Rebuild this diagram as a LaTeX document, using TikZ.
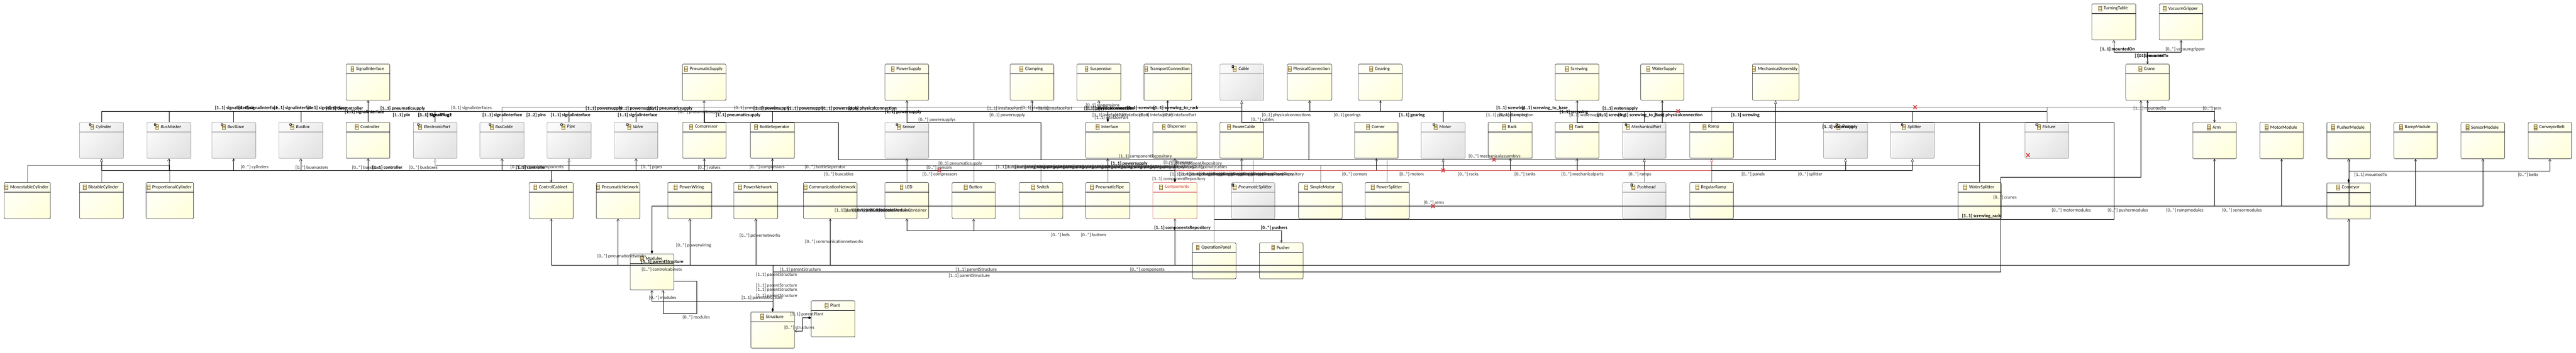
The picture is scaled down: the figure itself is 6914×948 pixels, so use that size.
\documentclass[tikz,border=0pt]{standalone}
\usepackage{fontspec}
\setmainfont{Carlito}
\usetikzlibrary{arrows.meta,shadows}

\definecolor{creamlight}{RGB}{255,255,248}
\definecolor{creamdark}{RGB}{255,255,222}
\definecolor{greylight}{RGB}{250,250,250}
\definecolor{greydark}{RGB}{228,228,228}
\definecolor{iconbrown}{RGB}{128,104,48}
\definecolor{iconfill}{RGB}{250,240,190}
\definecolor{selred}{RGB}{206,62,62}
\definecolor{markred}{RGB}{220,70,80}
\definecolor{gengrey}{RGB}{128,128,128}

\tikzset{
	classbox/.style={rounded corners=3pt,anchor=north west,inner sep=0pt,line width=0.7pt,minimum height=97pt,
		drop shadow={shadow xshift=1.2pt,shadow yshift=-1.2pt,fill=black,opacity=0.15}},
	box y/.style={draw=black,left color=creamlight,right color=creamdark,shading angle=45},
	box g/.style={draw=gengrey,left color=greylight,right color=greydark,shading angle=45},
	box r/.style={draw=selred,left color=creamlight,right color=creamdark,shading angle=45},
	head y/.style={draw=black,line width=0.7pt},
	head g/.style={draw=gengrey,line width=0.7pt},
	head r/.style={draw=selred,line width=0.7pt},
	title y/.style={inner sep=0pt},
	title g/.style={inner sep=0pt,font=\fontsize{12.5}{15}\selectfont\itshape},
	title r/.style={inner sep=0pt,text=selred},
	lbl/.style={inner sep=0pt,anchor=west,text=black!85},
	lblb/.style={inner sep=0pt,anchor=west,font=\fontsize{12.5}{15}\selectfont\bfseries},
	link/.style={draw=black,line width=0.7pt},
	thinlink/.style={draw=black,line width=0.45pt},
	gen/.style={draw=gengrey,line width=0.7pt},
	hollow/.style={-{Triangle[open,length=9pt,width=7pt,fill=white]}},
	pics/icon y/.style={code={
		\draw[iconbrown,fill=iconfill,line width=0.8pt] (-4,-6.5) rectangle (4,6.5);
		\draw[iconbrown,line width=0.6pt] (-4,-2.2) -- (4,-2.2);
		\draw[iconbrown,line width=0.6pt] (-4,2.2) -- (4,2.2);
	}},
	pics/icon r/.style={code={
		\draw[iconbrown,fill=iconfill,line width=0.8pt] (-4,-6.5) rectangle (4,6.5);
		\draw[iconbrown,line width=0.6pt] (-4,-2.2) -- (4,-2.2);
		\draw[iconbrown,line width=0.6pt] (-4,2.2) -- (4,2.2);
	}},
	pics/icon g/.style={code={
		\draw[iconbrown,fill=iconfill,line width=0.8pt] (-4,-6.5) rectangle (4,6.5);
		\draw[iconbrown,line width=0.6pt] (-4,-2.2) -- (4,-2.2);
		\draw[iconbrown,line width=0.6pt] (-4,2.2) -- (4,2.2);
		\draw[black,fill=white,line width=0.6pt] (-7.5,-9.5) rectangle (-3,-4);
	}},
	pics/redx/.style={code={
		\draw[markred,line width=2.6pt] (-4.5,-5) -- (4.5,5);
		\draw[markred,line width=2.6pt] (-4.5,5) -- (4.5,-5);
	}},
}

\begin{document}
\begin{tikzpicture}[x=1pt,y=-1pt,font=\fontsize{12.5}{15}\selectfont,>={Straight Barb[length=6pt,width=7pt]}]
	\useasboundingbox[fill=white] (0,0) rectangle (6914,948);

	% classes
	\foreach \n/\x/\y/\w/\k in {
		TurningTable/5614/10/118/y, VacuumGripper/5795/10/117/y,
		SignalInterface/929/172/117/y, PneumaticSupply/1831/172/117/y, PowerSupply/2375/172/117/y,
		Clamping/2711/172/117/y, Suspension/2890/172/118/y, TransportConnection/3070/172/128/y,
		Cable/3274/172/117/g, PhysicalConnection/3455/172/119/y, Gearing/3646/172/117/y,
		Screwing/4174/172/117/y, WaterSupply/4403/172/116/y, MechanicalAssembly/4703/172/125/y,
		Crane/5705/172/117/y,
		Cylinder/213/328/118/g, BusMaster/394/328/118/g, BusSlave/568/328/118/g, BusBox/748/328/118/g,
		Controller/929/328/117/y, ElectronicPart/1109/328/117/g, BusCable/1288/328/118/g, Pipe/1468/328/118/g,
		Valve/1648/328/117/g, Compressor/1832/328/116/y, BottleSeperator/2014/328/118/y, Sensor/2375/328/117/g,
		Interface/2914/328/118/y, Dispenser/3094/328/118/y, PowerCable/3274/328/117/y, Corner/3635/328/117/y,
		Motor/3814/328/118/g, Rack/3994/328/118/y, Tank/4174/328/117/y, MechanicalPart/4355/328/116/g,
		Ramp/4535/328/117/y, Pump/4894/328/118/g, Splitter/5074/328/117/g, Fixture/5435/328/117/g,
		Arm/5885/329/117/y, MotorModule/6065/329/117/y, PusherModule/6245/329/117/y, RampModule/6425/329/116/y,
		SensorModule/6605/329/117/y, ConveyorBelt/6785/329/117/y,
		MonostableCylinder/11/490/124/y, BistableCylinder/213/490/118/y, ProportionalCylinder/392/490/127/y,
		ControlCabinet/1420/490/118/y, PneumaticNetwork/1600/490/117/y, PowerWiring/1792/490/118/y,
		PowerNetwork/1969/490/118/y, CommunicationNetwork/2156/490/144/y, LED/2375/490/117/y,
		Button/2555/490/116/y, Switch/2735/490/117/y, PneumaticPipe/2914/490/118/y, Components/3094/490/118/r,
		PneumaticSplitter/3305/490/116/g, SimpleMotor/3485/490/117/y, PowerSplitter/3664/490/118/y,
		Pushhead/4355/490/116/g, RegularRamp/4535/490/117/y, WaterSplitter/5255/490/116/y, Conveyor/6245/491/117/y,
		OperationPanel/3200/652/117/y, Pusher/3380/652/117/y,
		Modules/1691/682/117/y, Plant/2177/808/117/y, Structure/2015/838/117/y} {
		\node[classbox,box \k,minimum width=\w pt] (\n) at (\x,\y) {};
		\draw[head \k] ([yshift=-26pt]\n.north west) -- ([yshift=-26pt]\n.north east);
		\node[title \k] (\n-t) at ([shift={(5.5,13)}]\n.north) {\n};
		\pic at ([xshift=-10pt]\n-t.west) {icon \k};
	}

	% lanes
	\coordinate (bustop) at (0,140);
	\coordinate (busgrey) at (0,288);
	\coordinate (bussig) at (0,299);
	\coordinate (buspow) at (0,330);
	\coordinate (busmid) at (0,429);
	\coordinate (busgen) at (0,444);
	\coordinate (buscon) at (0,458);
	\coordinate (busbelt) at (0,459);
	\coordinate (busmod) at (0,554);
	\coordinate (buspanel) at (0,590);
	\coordinate (busled) at (0,620);
	\coordinate (busstr) at (0,713);
	\coordinate (bussub) at (0,730);
	\coordinate (busback) at (0,809);

	\coordinate (midstart) at (2249.5,429);
	\coordinate (cablekink) at (3512,429);
	\coordinate (panelkink) at (5674,330);
	\coordinate (cranekink) at (5369.4,476);
	\coordinate (loopa) at (1870,755);
	\coordinate (loopb) at (1779.6,842);
	\coordinate (plantkink) at (2154,854);
	\coordinate (structin) at (2132,889);

	% generalisations
	\draw[gen] (MonostableCylinder.north) |- (ProportionalCylinder.north |- busgen) -- (ProportionalCylinder.north);
	\draw[gen] (BusCable.north) |- (Cable.south |- busgrey);
	\draw[gen] (Ramp.north) |- (Arm.north |- busgrey) -- (Arm.north |- bussig);
	\draw[gen] (Fixture.north) -- (Fixture.north |- busgrey);
	\draw[gen] (ElectronicPart.south |- busgen) -- (WaterSplitter.north |- busgen);
	\foreach \n in {Button,Switch,SimpleMotor,OperationPanel}
		\draw[gen] (\n.north) -- (\n.north |- busgen);
	\foreach \n in {PneumaticSplitter,PowerSplitter}
		\draw[gen] (\n.north) -- (\n.north |- busmid);
	\draw[gen,->] (LED.north) -- (Sensor.south);
	\draw[gen,->] (PneumaticPipe.north) -- (Interface.south);
	\draw[gen,hollow] (BistableCylinder.north) -- (Cylinder.south);
	\draw[gen,hollow] (Pushhead.north) -- (MechanicalPart.south);
	\draw[gen,hollow] (RegularRamp.north) -- (Ramp.south);
	\draw[gen,hollow] (ElectronicPart.south |- busgen) -- (ElectronicPart.south);

	% upper bus
	\draw[link] (Cylinder.north |- bussig) -- (Fixture.north |- bussig);
	\foreach \n in {Cylinder,BusMaster,BusSlave,BusBox,ElectronicPart,Pipe,Valve,Compressor,BottleSeperator,Motor,Rack,MechanicalPart,Splitter}
		\draw[link] (\n.north) -- (\n.north |- bussig);
	\foreach \n in {Clamping,Suspension,TransportConnection,PhysicalConnection,Gearing}
		\draw[link,->] (\n.south |- bussig) -- (\n.south);
	\draw[link,->] (Controller.north) -- (SignalInterface.south);
	\draw[link,{Diamond[length=11pt,width=6pt]}-] (Interface.north) -- (Interface.north |- bussig);

	% lower bus
	\draw[link] (Cylinder.south |- buscon) -- (Dispenser.south |- buscon);
	\draw[selred,line width=0.7pt] (Dispenser.south |- buscon) -- (Ramp.south |- buscon);
	\draw[link] (Ramp.south |- buscon) -- (Splitter.south |- buscon);
	\foreach \n in {BusMaster,BusSlave,BusBox,Controller,BusCable,Valve,Compressor,BottleSeperator,Sensor,Interface,PowerCable,Corner,Rack,Tank}
		\draw[link,->] (\n.south |- buscon) -- (\n.south);
	\foreach \n in {Cylinder,Pipe,Motor,MechanicalPart,Pump,Splitter}
		\draw[link,hollow] (\n.south |- buscon) -- (\n.south);
	\draw[selred,line width=0.7pt,hollow] (Ramp.south |- buscon) -- (Ramp.south);
	\draw[link,->] (ControlCabinet.north |- buscon) -- (ControlCabinet.north);
	\draw[link,{Diamond[length=11pt,width=6pt]}->] (Components.north) -- (Dispenser.south);

	% middle lanes
	\draw[link] (midstart) -- (MechanicalAssembly.south |- busmid);
	\draw[link,hollow] (MechanicalAssembly.south |- busmid) -- (MechanicalAssembly.south);
	\draw[link,->] (midstart) |- (PneumaticSupply.south |- buspow) -- (PneumaticSupply.south);
	\draw[link,->] (Switch.north |- busmid) |- (PowerSupply.south |- buspow) -- (PowerSupply.south);
	\draw[thinlink] (Button.north |- buspow) -- (Button.north |- busmid);
	\draw[thinlink] (cablekink) |- (Cable.south |- buspow);
	\draw[link,hollow] (Cable.south |- buspow) -- (Cable.south);
	\draw[link,->] (OperationPanel.north |- buspanel) -| (panelkink) -| (Screwing.south);
	\draw[link,->] (WaterSupply.south |- buspow) -- (WaterSupply.south);
	\draw[link] (WaterSplitter.north) -- (WaterSplitter.north |- buspow);

	% modules lane
	\draw[link,{Diamond[length=11pt,width=6pt]}-] (Modules.north) -- (Modules.north |- busmod);
	\draw[link] (Modules.north |- busmod) -- (SensorModule.south |- busmod);
	\foreach \n in {Arm,MotorModule,PusherModule,RampModule,SensorModule}
		\draw[link,->] (\n.south |- busmod) -- (\n.south);
	\draw[link,{Diamond[length=11pt,width=6pt]}->] (Conveyor.north) -- (PusherModule.south);
	\draw[link,->] (PusherModule.south |- busbelt) -| (ConveyorBelt.south);
	\draw[link,<->] (LED.south) |- (Pusher.north |- busled) -- (Pusher.north);
	\draw[link,->] (Button.south |- busled) -- (Button.south);

	% structure lanes
	\draw[link] (ControlCabinet.south |- busstr) -- (Conveyor.south |- busstr);
	\foreach \n in {ControlCabinet,PneumaticNetwork,PowerWiring,PowerNetwork,CommunicationNetwork,Conveyor}
		\draw[link,->] (\n.south |- busstr) -- (\n.south);
	\draw[thinlink,->] (Components.south |- busstr) -- (Components.south);
	\draw[link,{Diamond[length=11pt,width=6pt]}-] (Structure.north) -- (Structure.north |- busstr);
	\draw[link,->] (Structure.north |- bussub) -| (cranekink) -| ([xshift=-18pt]Crane.south);
	\draw[link,->] (Structure.north |- busback) -| (Modules.south);
	\draw[link,->] (Modules.east |- loopa) -- (loopa) |- (loopb) -- (loopb |- Modules.south);
	\draw[link,{Diamond[length=9pt,width=7pt]}->] (Plant.west |- plantkink) -- (plantkink) |- (structin);

	% crane
	\draw[link,<->] (Crane.south) |- (Arm.north |- bussig) -- (Arm.north);
	\draw[link,<->] (TurningTable.south) |- (VacuumGripper.south |- bustop) -- (VacuumGripper.south);
	\draw[link,->] (Crane.north |- bustop) -- (Crane.north);

	% markers
	\foreach \x/\y in {4504/299,5140/288,5443/417,2521/458,3873.5/458,3846/554,4010/429}
		\pic at (\x,\y) {redx};

	% labels
	\foreach \x/\y/\lab [count=\i] in {
		577/291/{[1..1] signalinterface}, 640/291/{[1..1] signalinterface}, 735/291/{[1..1] signalinterface},
		825/291/{[1..1] signalinterface}, 875/291/{[1..1] buscontroller},
		925/301/{[1..1] signalinterface}, 1021/291/{[1..1] pneumaticsupply},
		1054/310/{[1..1] pin}, 1122/310/{[1..1] SignalPlug1}, 1122.5/310/{[1..1] SignalPlug2},
		1295/310/{[1..1] signalinterface}, 1413/310/{[2..2] pins}, 1478/310/{[1..1] signalinterface},
		1572/291/{[1..1] powersupply}, 1660/291/{[0..1] powersupply}, 1739/291/{[1..1] pneumaticsupply},
		2022/291/{[1..1] powersupply}, 2114/291/{[1..1] powersupply}, 2206/291/{[1..1] powersupply},
		2277/291/{[1..1] physicalconnection}, 2375/301/{[1..1] powersupply},
		1658/310/{[1..1] signalinterface}, 1921/310/{[1..1] pneumaticsupply},
		999/450/{[1..1] controller}, 1384/450/{[1..1] controller},
		2910/291/{[1..1] physicalconnection}, 2915/291/{[1..1] physicalconnection},
		3025/291/{[1..1] screwing}, 3095/291/{[1..1] screwing\_to\_rack}, 2982/440/{[1..1] powersupply},
		3755/310/{[1..1] gearing}, 4016/291/{[1..1] screwing}, 4084/291/{[1..1] screwing\_to\_base},
		4301/291/{[1..1] watersupply}, 4186/301/{[1..1] screwing}, 4287/310/{[1..1] screwing},
		4343/310/{[1..1] screwing\_to\_base}, 4440/310/{[1..1] physicalconnection}, 4646/310/{[1..1] screwing},
		4891/341/{[1..1] watersupply}, 5266/581/{[1..1] screwing\_rack},
		5637/133/{[1..1] mountedOn}, 5730/151/{[1..1] mountedTo}, 5737/151/{[0..1] mounts},
		1721/704/{[1..1] parentStructure}, 3098/612/{[1..1] componentsRepository}, 3384/612/{[0..*] pushers}
		}
		\node[lblb] (head\i) at (\x,\y) {\lab};

	\foreach \x/\y/\lab [count=\i] in {
		646/450/{[0..*] cylinders}, 793/450/{[0..*] busmasters}, 945/450/{[0..*] busslaves}, 1098/450/{[0..*] busboxes},
		1370/450/{[0..*] electroniccomponents}, 1721/450/{[0..*] pipes}, 1873/450/{[0..*] valves},
		2012/450/{[0..*] compressors}, 2160/450/{[0..*] bottleSeperator}, 2212/469/{[0..*] buscables},
		1211/291/{[0..1] signalinterfaces}, 1820/301/{[0..*] pneumaticsupply}, 1970/291/{[0..1] pneumaticsupply},
		2240/565/{[1..1] parentModuleContainer}, 2267/565/{[1..1] parentModuleContainer},
		2295/565/{[1..1] parentModuleContainer}, 2335/565/{[1..1] parentModuleContainer},
		2650/291/{[1..1] intefacePart}, 2741/291/{[0..1] clamping}, 2787/291/{[1..1] intefacePart},
		2914/283/{[0..1] suspensions}, 2656/310/{[0..1] powersupply}, 2932/310/{[1..1] intefacePart},
		2992/310/{[1..1] intefacePart}, 3058/310/{[1..1] intefacePart}, 3120/310/{[1..1] intefacePart},
		2938/317/{[1..1] intefacePart}, 2465/322/{[0..*] powersupplys}, 3003/420/{[1..1] componentRepository},
		2519/440/{[0..1] pneumaticsupply}, 3137/440/{[1..1] componentRepository}, 3123/437/{[0..*] dispenser},
		2487/450/{[0..*] sensors}, 3200/450/{[0..*] powercables}, 2476/469/{[0..*] compressors},
		3093/481/{[1..1] componentRepository}, 3387/310/{[0..1] physicalconnections}, 3580/310/{[0..1] gearings},
		3989/310/{[1..1] physicalconnection}, 4024/310/{[0..1] clamping}, 3358/322/{[0..*] cables},
		3942/420/{[0..*] mechanicalassemblys}, 3602/469/{[0..*] corners}, 3756/469/{[0..*] motors},
		3913/469/{[0..*] racks}, 3821/545/{[0..*] arms}, 4212/310/{[0..1] watersupply},
		4065/469/{[0..*] tanks}, 4191/469/{[0..*] mechanicalparts}, 4371/469/{[0..*] ramps}, 4674/469/{[0..*] panels},
		4826/469/{[0..*] splitter}, 5350/531/{[0..*] cranes}, 5507/565/{[0..*] motormodules},
		5812/133/{[0..*] vacuumgripper}, 5726/291/{[1..1] mountedTo}, 5912/291/{[0..*] arm},
		6319/470/{[1..1] mountedTo}, 6758/470/{[0..*] belts}, 5657/566/{[0..*] pushermodules},
		5814/566/{[0..*] rampmodules}, 5964/566/{[0..*] sensormodules},
		1985/633/{[0..*] powernetworks}, 2161/650/{[0..*] communicationnetworks}, 1815/660/{[0..*] powerwiring},
		1603/689/{[0..*] pneumaticnetworks}, 1722/724/{[0..*] controlcabinets}, 2093/724/{[1..1] parentStructure},
		2029/739/{[1..1] parentStructure}, 2029/768/{[1..1] parentStructure}, 2029/778/{[1..1] parentStructure},
		2029/795/{[1..1] parentStructure}, 1990/801/{[1..1] parentStructure}, 1742/801/{[0..*] modules},
		1832/853/{[0..*] modules}, 2121/845/{[1..1] parentPlant}, 2105/880/{[0..*] structures},
		2821/632/{[0..*] leds}, 2901/632/{[0..*] buttons}, 2565/724/{[1..1] parentStructure},
		3033/724/{[0..*] components}, 2546/741/{[1..1] parentStructure}
		}
		\node[lbl] (note\i) at (\x,\y) {\lab};

	\foreach \x [count=\i] in {2673,2699,...,3090}
		\node[lbl] (repoa\i) at (\x,450) {[1..1] componentRepository};
	\foreach \x [count=\i] in {3141,3168,...,3370}
		\node[lbl] (repob\i) at (\x,469) {[1..1] componentRepository};

\end{tikzpicture}
\end{document}
